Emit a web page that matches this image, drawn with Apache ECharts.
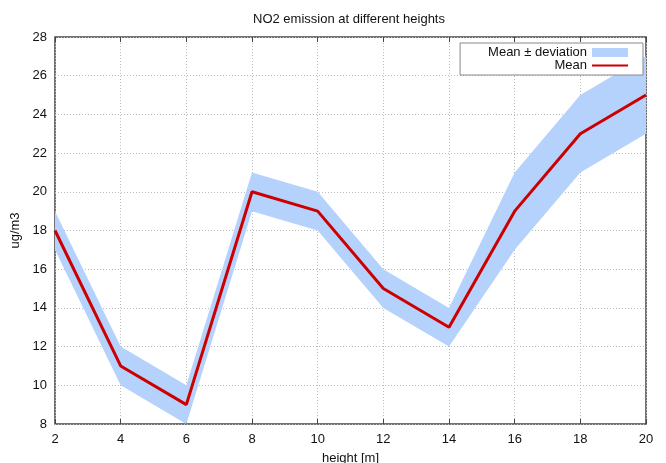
<!DOCTYPE html>
<html>
<head>
	<meta charset="utf-8">
	<title>NO2 emission</title>
	<script src="https://cdn.jsdelivr.net/npm/echarts@6/dist/echarts.min.js"></script>
	<style>
		html,body{margin:0;padding:0;background:#fff;}
		#main{width:666px;height:463px;}
	</style>
</head>
<body>
<div id="main"></div>
<script type="text/javascript">
	var heights=['2','4','6','8','10','12','14','16','18','20'];
	var meanVals=[18,11,9,20,19,15,13,19,23,25];
	var lowerVals=[17,10,8,19,18,14,12,17,21,23];
	var upperVals=[19,12,10,21,20,16,14,21,25,27];

	var font='"Liberation Sans", Arial, sans-serif';
	var axisCol='#444';
	var spread=upperVals.map(function(u,i){ return u-lowerVals[i]; });

	var myChart=echarts.init(document.getElementById('main'));
	var option={
		backgroundColor:'#fff',
		animation:false,
		title:{
			text:'NO2 emission at different heights',
			left:344,
			top:8,
			textAlign:'center',
			textStyle:{fontFamily:font,fontSize:13,fontWeight:'normal',color:'#111'}
		},
		legend:{
			orient:'vertical',
			right:23,
			top:43,
			align:'right',
			itemWidth:36,
			itemHeight:9,
			itemGap:0,
			padding:[3,15,3,28],
			borderColor:'#888',
			borderWidth:1,
			borderRadius:0,
			backgroundColor:'#fff',
			textStyle:{fontFamily:font,fontSize:13,color:'#111',lineHeight:13},
			data:[
				{name:'Mean ± deviation',icon:'rect',itemStyle:{color:'#b4d2fc'}},
				{name:'Mean',icon:'path://M0,4 L36,4 L36,6 L0,6 Z',itemStyle:{color:'#cc0000'}}
			]
		},
		grid:{left:55,right:20,top:37,bottom:39,show:true,borderColor:axisCol,borderWidth:1.5,
			outerBoundsMode:'none',containLabel:false},
		xAxis:[{
			type:'category',data:heights,boundaryGap:false,
			name:'height [m]',nameLocation:'middle',nameGap:28,
			nameTextStyle:{fontFamily:font,fontSize:13,color:'#111'},
			axisLine:{show:false},
			axisTick:{inside:true,length:5,lineStyle:{color:axisCol}},
			axisLabel:{fontFamily:font,fontSize:13,color:'#111',margin:9,interval:0},
			splitLine:{show:true,interval:0,lineStyle:{color:'#bbb',type:[1,2],width:1}}
		},{
			type:'category',data:heights,boundaryGap:false,position:'top',
			axisLine:{show:false},axisLabel:{show:false},splitLine:{show:false},
			axisTick:{inside:true,length:5,lineStyle:{color:axisCol}}
		}],
		yAxis:[{
			type:'value',min:8,max:28,interval:2,
			name:'ug/m3',nameLocation:'middle',nameGap:22,
			nameTextStyle:{fontFamily:font,fontSize:13,color:'#111'},
			axisLine:{show:false},
			axisTick:{inside:true,length:5,lineStyle:{color:axisCol}},
			axisLabel:{fontFamily:font,fontSize:13,color:'#111',margin:8},
			splitLine:{lineStyle:{color:'#bbb',type:[1,2],width:1}}
		},{
			type:'value',min:8,max:28,interval:2,position:'right',
			axisLine:{show:false},axisLabel:{show:false},splitLine:{show:false},
			axisTick:{inside:true,length:5,lineStyle:{color:axisCol}}
		}],
		series:[{
			name:'lower',
			type:'line',
			stack:'band',
			data:lowerVals,
			symbol:'none',
			lineStyle:{opacity:0},
			silent:true
		},{
			name:'Mean ± deviation',
			type:'line',
			stack:'band',
			data:spread,
			symbol:'none',
			lineStyle:{opacity:0},
			itemStyle:{color:'#b4d2fc'},
			areaStyle:{color:'#b4d2fc',opacity:1}
		},{
			name:'Mean',
			type:'line',
			data:meanVals,
			symbol:'none',
			itemStyle:{color:'#cc0000'},
			lineStyle:{color:'#cc0000',width:3}
		}]
	};
	myChart.setOption(option);
</script>
</body>
</html>
